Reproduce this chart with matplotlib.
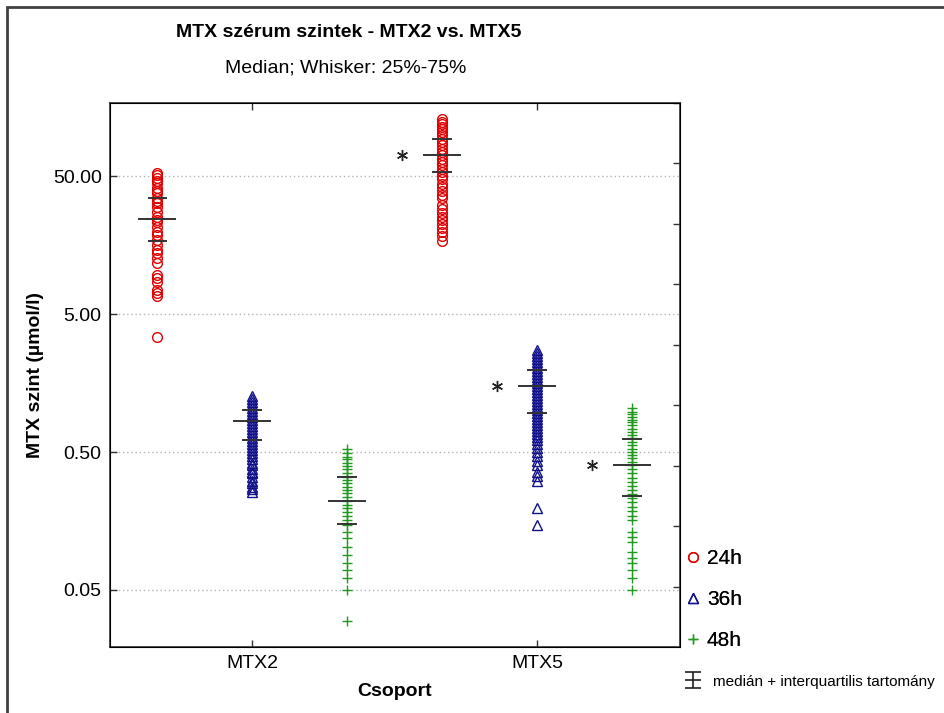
import matplotlib.pyplot as plt
import numpy as np
from matplotlib.lines import Line2D
from matplotlib.path import Path
from matplotlib.patches import Rectangle
from matplotlib.ticker import FixedLocator, NullLocator, FormatStrFormatter

plt.rcParams['font.family'] = ['Liberation Sans', 'DejaVu Sans']

groups = ['MTX2', 'MTX5']
times = ['24h', '36h', '48h']

# serum levels (umol/l)
mtx2_24h = [52.5, 51.0, 48.3, 46.5, 44.5, 40.9, 39.0, 37.6, 34.6, 33.0, 31.9, 29.8,
            27.4, 25.2, 24.0, 23.2, 21.4, 19.6, 18.7, 17.2, 15.8, 14.5, 13.8,
            12.7, 11.7, 9.6, 9.1, 8.5, 7.5, 7.1, 6.8, 3.4]
mtx2_36h = [1.27, 1.21, 1.15, 1.10, 1.04, 0.99, 0.94, 0.90, 0.85, 0.81, 0.77,
            0.73, 0.70, 0.66, 0.63, 0.60, 0.57, 0.54, 0.52, 0.49, 0.47, 0.445,
            0.42, 0.40, 0.38, 0.36, 0.35, 0.33, 0.31, 0.30, 0.28, 0.27, 0.256]
mtx2_48h = [0.523, 0.489, 0.462, 0.443, 0.418, 0.396, 0.375, 0.354, 0.331,
            0.313, 0.297, 0.280, 0.265, 0.251, 0.237, 0.221, 0.207, 0.195,
            0.185, 0.172, 0.161, 0.148, 0.132, 0.119, 0.103, 0.090, 0.078,
            0.070, 0.061, 0.050, 0.030]
mtx5_24h = [129.4, 123.7, 119.0, 113.8, 109.6, 104.7, 100.3, 93.8, 88.6, 83.9,
            79.4, 75.0, 71.0, 67.2, 63.5, 60.1, 56.8, 53.7, 50.3, 47.6, 44.3,
            41.8, 38.9, 36.9, 34.8, 31.2, 29.2, 27.3, 25.4, 24.0, 22.7, 21.1,
            19.7, 18.5, 16.9]
mtx5_36h = [2.74, 2.61, 2.48, 2.36, 2.24, 2.13, 2.03, 1.93, 1.84, 1.75, 1.66,
            1.58, 1.50, 1.43, 1.36, 1.29, 1.23, 1.17, 1.11, 1.06, 1.01, 0.96,
            0.91, 0.87, 0.82, 0.78, 0.75, 0.71, 0.675, 0.64, 0.61, 0.57, 0.535,
            0.50, 0.47, 0.43, 0.40, 0.36, 0.335, 0.31, 0.196, 0.148]
mtx5_48h = [1.04, 0.98, 0.94, 0.90, 0.86, 0.82, 0.78, 0.74, 0.70, 0.66, 0.63,
            0.59, 0.56, 0.53, 0.50, 0.476, 0.45, 0.425, 0.40, 0.376, 0.35,
            0.326, 0.305, 0.285, 0.265, 0.247, 0.231, 0.216, 0.20, 0.187,
            0.173, 0.161, 0.132, 0.122, 0.111, 0.095, 0.085, 0.078, 0.070,
            0.061, 0.050]

# median + interquartile range per series (MTX2 24/36/48h, MTX5 24/36/48h)
medians = [24.4, 0.84, 0.221, 71.8, 1.50, 0.40]
q1 = [16.9, 0.61, 0.150, 53.7, 0.96, 0.24]
q3 = [34.6, 1.01, 0.331, 93.8, 1.96, 0.62]
significant = [False, False, False, True, True, True]

series = [mtx2_24h, mtx2_36h, mtx2_48h, mtx5_24h, mtx5_36h, mtx5_48h]
markers = ['o', '^', '+']
colors = ['#e00000', '#10108a', '#1f9a1f']


def main():
    fig = plt.figure(figsize=(9.44, 7.13), dpi=100)
    ax = fig.add_axes([0.1165, 0.0926, 0.6038, 0.7629])

    for i, vals in enumerate(series):
        t = i % 3
        ax.plot([i] * len(vals), vals, linestyle='none', marker=markers[t],
                mfc='none', mec=colors[t], ms=7, mew=1.0, zorder=2)
        ax.hlines(medians[i], i - 0.2, i + 0.2, color='#333333', lw=1.4, zorder=3)
        ax.hlines([q1[i], q3[i]], i - 0.105, i + 0.105, color='#333333', lw=1.4, zorder=3)
        if significant[i]:
            ax.plot(i - 0.43, medians[i], marker=(6, 2, 0), color='#222222',
                    ms=8, mew=1.0, linestyle='none')

    ax.set_yscale('log')
    ax.set_ylim(0.0193, 170)
    ax.set_xlim(-0.5, 5.5)
    ax.yaxis.set_major_locator(FixedLocator([0.05, 0.5, 5, 50]))
    ax.yaxis.set_minor_locator(NullLocator())
    ax.yaxis.set_major_formatter(FormatStrFormatter('%.2f'))
    ax.set_xticks([1, 4], labels=groups)
    ax.grid(axis='y', linestyle=(0, (1, 2)), color='#b5b5b5', lw=1)
    ax.tick_params(direction='in', top=True, length=5, width=1, colors='#333333',
                   labelcolor='black', labelsize=14, pad=6)
    for s in ax.spines.values():
        s.set_color('#333333')
        s.set_linewidth(1.2)

    ax2 = ax.twinx()
    ax2.set_ylim(0, 1)
    ax2.set_yticks(np.arange(1, 10) / 9)
    ax2.set_yticklabels([])
    ax2.tick_params(direction='in', length=5, width=1, colors='#333333')

    ax.set_ylabel('MTX szint (µmol/l)', fontsize=14, fontweight='bold', labelpad=6)
    ax.set_xlabel('Csoport', fontsize=14, fontweight='bold', labelpad=8)

    fig.text(0.369, 0.954, 'MTX szérum szintek - MTX2 vs. MTX5', ha='center',
             va='center', fontsize=14, fontweight='bold')
    fig.text(0.366, 0.905, 'Median; Whisker: 25%-75%', ha='center', va='center',
             fontsize=14)

    handles = [Line2D([], [], linestyle='none', marker=markers[t], mfc='none',
                      mec=colors[t], ms=7, mew=1.0) for t in range(3)]
    leg = fig.legend(handles, times, loc='upper left', bbox_to_anchor=(0.7252, 0.2294),
                     frameon=False, fontsize=15, labelspacing=1.05, handlelength=0.8,
                     handletextpad=0.27, borderpad=0, borderaxespad=0)
    fig.add_artist(leg)

    iqr_path = Path([(-1, 1), (1, 1), (0, 1), (0, -1), (-1, -1), (1, -1), (-1, 0), (1, 0)],
                    [Path.MOVETO, Path.LINETO, Path.MOVETO, Path.LINETO,
                     Path.MOVETO, Path.LINETO, Path.MOVETO, Path.LINETO])
    iqr_handle = Line2D([], [], linestyle='none', marker=iqr_path, color='#222222',
                        ms=11, mew=1.2)
    fig.legend([iqr_handle], ['medián + interquartilis tartomány'], loc='upper left',
               bbox_to_anchor=(0.7273, 0.0536), frameon=False, fontsize=11,
               handlelength=0.8, handletextpad=0.9, borderpad=0, borderaxespad=0)

    fig.add_artist(Rectangle((0.0074, -0.05), 1.1, 1.0402, transform=fig.transFigure,
                             fill=False, edgecolor='#404040', lw=2))

    plt.savefig('out.png')
    return


if __name__ == '__main__':
    main()
